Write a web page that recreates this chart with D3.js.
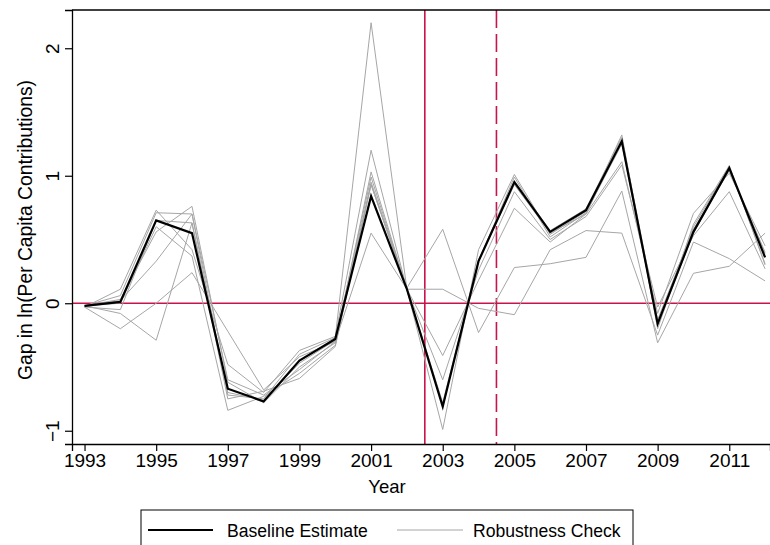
<!DOCTYPE html>
<html>
<head>
<meta charset="utf-8">
<script src="https://cdn.jsdelivr.net/npm/d3@7"></script>
<style>
html,body{margin:0;padding:0;background:#fff;}
svg{display:block;font-family:"Liberation Sans",Arial,sans-serif;}
</style>
</head>
<body>
<svg id="chart" width="770" height="545"></svg>
<script>
const years = [1993,1994,1995,1996,1997,1998,1999,2000,2001,2002,2003,2004,2005,2006,2007,2008,2009,2010,2011,2012];
const xTickLabels = [1993,1995,1997,1999,2001,2003,2005,2007,2009,2011];
const yTickLabels = [-1,0,1,2];
const baseline = [-0.02,0.01,0.65,0.55,-0.67,-0.77,-0.45,-0.28,0.84,0.11,-0.81,0.33,0.95,0.56,0.73,1.27,-0.16,0.56,1.06,0.36];
const robust1 = [-0.02,0.06,0.71,0.70,-0.72,-0.75,-0.40,-0.27,2.20,0.11,-0.99,0.42,1.01,0.54,0.72,1.32,-0.20,0.62,1.08,0.30];
const robust2 = [-0.03,0.11,0.73,0.42,-0.48,-0.70,-0.37,-0.26,1.20,0.11,-0.41,0.18,0.745,0.48,0.70,1.11,-0.08,0.705,1.02,0.45];
const robust3 = [-0.02,0.03,0.56,0.76,-0.62,-0.78,-0.50,-0.31,1.03,0.11,-0.60,0.26,0.875,0.50,0.68,1.085,-0.03,0.53,0.875,0.27];
const robust4 = [-0.03,-0.05,0.65,0.63,-0.70,-0.76,-0.47,-0.29,0.99,0.11,-0.81,0.34,0.96,0.57,0.74,1.30,-0.13,0.58,1.04,0.39];
const robust5 = [-0.02,0.00,0.60,0.37,-0.84,-0.73,-0.55,-0.33,0.95,0.11,-0.78,0.33,0.99,0.52,0.71,1.25,-0.16,0.60,1.07,0.31];
const robust6 = [-0.02,-0.08,-0.29,0.63,-0.75,-0.69,-0.59,-0.34,0.93,0.11,-0.81,0.33,0.93,0.55,0.70,1.28,-0.18,0.55,1.05,0.40];
const robust7 = [-0.03,-0.20,0.00,0.24,-0.22,-0.68,-0.42,-0.30,0.93,0.12,0.58,-0.23,0.28,0.31,0.36,0.88,-0.31,0.235,0.29,0.55];
const robust8 = [-0.02,0.02,0.33,0.70,-0.60,-0.72,-0.52,-0.30,0.55,0.11,0.11,-0.04,-0.09,0.42,0.57,0.55,-0.25,0.48,0.35,0.175];
const robustSeries = [robust1,robust2,robust3,robust4,robust5,robust6,robust7,robust8];
const treatLines = [2002.5, 2004.5];
const legendLabels = ["Baseline Estimate","Robustness Check"];

const svg = d3.select("#chart");
const pLeft = 72, pRight = 770, pTop = 10, pBottom = 444;
const x = d3.scaleLinear().domain([1992.65, 2012.137]).range([pLeft, pRight]);
const y = d3.scaleLinear().domain([-1.104, 2.30]).range([pBottom, pTop]);
const red = "#c8144a";

// reference lines
svg.append("line").attr("x1", pLeft).attr("x2", pRight).attr("y1", y(0)).attr("y2", y(0))
  .attr("stroke", red).attr("stroke-width", 1.6);
svg.append("line").attr("x1", x(treatLines[0])).attr("x2", x(treatLines[0])).attr("y1", pTop).attr("y2", pBottom)
  .attr("stroke", red).attr("stroke-width", 1.6);
svg.append("line").attr("x1", x(treatLines[1])).attr("x2", x(treatLines[1])).attr("y1", pTop).attr("y2", pBottom)
  .attr("stroke", red).attr("stroke-width", 1.6).attr("stroke-dasharray", "18,6");

const line = d3.line().x((d,i) => x(years[i])).y(d => y(d));
robustSeries.forEach(s => {
  svg.append("path").datum(s).attr("d", line).attr("fill", "none")
    .attr("stroke", "#a6a6a6").attr("stroke-width", 1).attr("stroke-linejoin", "miter");
});
svg.append("path").datum(baseline).attr("d", line).attr("fill", "none")
  .attr("stroke", "#000").attr("stroke-width", 2.2).attr("stroke-linejoin", "miter");

// axes
const xAxis = d3.axisBottom(x).tickValues(xTickLabels).tickFormat(d3.format("d")).tickSizeOuter(0).tickSize(7).tickPadding(3);
const gx = svg.append("g").attr("transform", `translate(0,${pBottom})`).call(xAxis);
gx.select(".domain").attr("stroke", "#000").attr("stroke-width", 1.3);
gx.selectAll(".tick line").attr("stroke", "#000").attr("stroke-width", 1.2);
gx.selectAll("text").attr("font-size", 19).attr("fill", "#000").attr("font-family", "Liberation Sans, Arial, sans-serif");

const yAxis = d3.axisLeft(y).tickValues(yTickLabels).tickFormat(d => d < 0 ? "\u2212" + Math.abs(d) : d).tickSizeOuter(0).tickSize(7);
const gy = svg.append("g").attr("transform", `translate(${pLeft},0)`).call(yAxis);
gy.select(".domain").attr("stroke", "#000").attr("stroke-width", 1.3);
gy.selectAll(".tick line").attr("stroke", "#000").attr("stroke-width", 1.2);
gy.selectAll("text").attr("font-size", 19).attr("fill", "#000").attr("font-family", "Liberation Sans, Arial, sans-serif")
  .attr("x", null).attr("text-anchor", "middle")
  .attr("transform", "translate(-20,0) rotate(-90)").attr("y", 0).attr("dy", "0.35em");

// top border
svg.append("line").attr("x1", pLeft).attr("x2", pRight).attr("y1", pTop).attr("y2", pTop)
  .attr("stroke", "#000").attr("stroke-width", 1.3);

// titles
svg.append("text").attr("x", 387).attr("y", 493).attr("text-anchor", "middle")
  .attr("font-size", 18.5).text("Year");
svg.append("text").attr("transform", `translate(32,${(77+383)/2}) rotate(-90)`).attr("text-anchor", "middle")
  .attr("font-size", 19.3).text("Gap in ln(Per Capita Contributions)");

// legend
const lg = svg.append("g");
lg.append("rect").attr("x", 141).attr("y", 510).attr("width", 492).attr("height", 50)
  .attr("fill", "#fff").attr("stroke", "#000").attr("stroke-width", 1);
lg.append("line").attr("x1", 148).attr("x2", 213).attr("y1", 530).attr("y2", 530).attr("stroke", "#000").attr("stroke-width", 2.2);
lg.append("text").attr("x", 227).attr("y", 537).attr("font-size", 17.6).text(legendLabels[0]);
lg.append("line").attr("x1", 397).attr("x2", 463).attr("y1", 530).attr("y2", 530).attr("stroke", "#a6a6a6").attr("stroke-width", 1);
lg.append("text").attr("x", 473).attr("y", 537).attr("font-size", 17.6).text(legendLabels[1]);
</script>
</body>
</html>
